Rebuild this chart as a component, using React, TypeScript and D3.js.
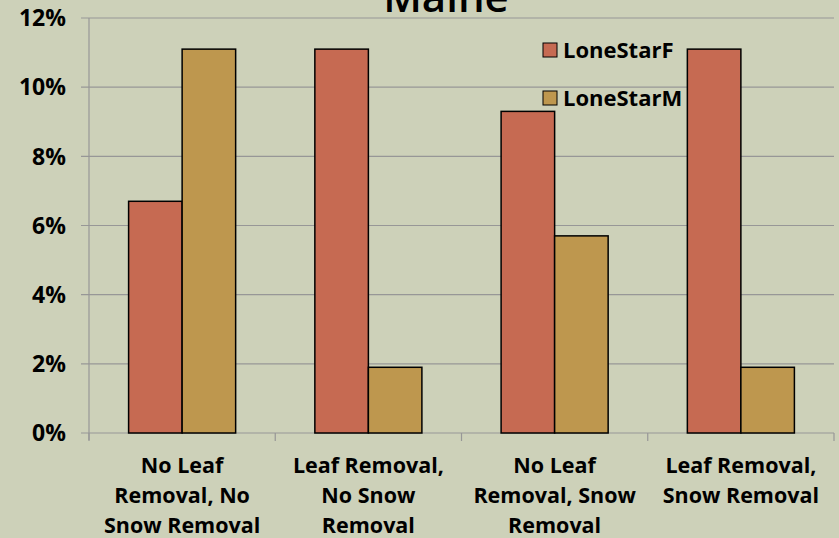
import React from "react";
import * as d3 from "d3";

const categories = [
  ["No Leaf", "Removal, No", "Snow Removal"],
  ["Leaf Removal,", "No Snow", "Removal"],
  ["No Leaf", "Removal, Snow", "Removal"],
  ["Leaf Removal,", "Snow Removal"],
];
const seriesNames = ["LoneStarF", "LoneStarM"];
const loneStarF = [6.7, 11.1, 9.3, 11.1];
const loneStarM = [11.1, 1.9, 5.7, 1.9];
const yTicks = [0, 2, 4, 6, 8, 10, 12];
const colors = ["#c66a52", "#be974e"];

const W = 839, H = 538;
const left = 89, right = 834, top = 18, bottom = 433;
const font = "'Open Sans', sans-serif";

export default function App() {
  const x = d3.scaleBand<number>().domain(d3.range(categories.length)).range([left, right]).paddingInner(0).paddingOuter(0);
  const y = d3.scaleLinear().domain([0, 12]).range([bottom, top]);
  const bw = x.bandwidth();
  const barW = bw / 3.48;
  const series = [loneStarF, loneStarM];
  return (
    <svg width={W} height={H} style={{ position: "absolute", left: 0, top: 0, display: "block" }}>
      <rect x={0} y={0} width={W} height={H} fill="#cdd1b9" />
      {yTicks.map((t) => (
        <g key={t}>
          <line x1={left - 8} x2={right} y1={y(t)} y2={y(t)} stroke="#979797" strokeWidth={1.2} />
          <text x={66} y={y(t)} dy="0.36em" textAnchor="end" fontFamily={font} fontWeight={700} fontSize={23} fill="#000">
            {t}%
          </text>
        </g>
      ))}
      <line x1={left} x2={left} y1={top} y2={bottom + 7} stroke="#979797" strokeWidth={1.2} />
      {d3.range(categories.length + 1).map((i) => {
        const xx = i < categories.length ? x(i)! : right;
        return <line key={i} x1={xx} x2={xx} y1={bottom} y2={bottom + 8} stroke="#979797" strokeWidth={1.2} />;
      })}
      {series.map((vals, si) =>
        vals.map((v, i) => {
          const x0 = x(i)! + (bw - 2 * barW) / 2 + si * barW;
          return (
            <rect key={`${si}-${i}`} x={x0} y={y(v)} width={barW} height={bottom - y(v)} fill={colors[si]} stroke="#000" strokeWidth={1.5} />
          );
        })
      )}
      {categories.map((lines, i) => (
        <text key={i} textAnchor="middle" fontFamily={font} fontWeight={700} fontSize={21.5} fill="#000">
          {lines.map((l, j) => (
            <tspan key={j} x={x(i)! + bw / 2} y={473 + j * 30}>
              {l}
            </tspan>
          ))}
        </text>
      ))}
      {seriesNames.map((n, si) => (
        <g key={n}>
          <rect x={543} y={43 + si * 48} width={14} height={14} fill={colors[si]} stroke="#000" strokeWidth={1} />
          <text x={563} y={58 + si * 48} fontFamily={font} fontWeight={700} fontSize={22} fill="#000">
            {n}
          </text>
        </g>
      ))}
      <text x={446} y={12} textAnchor="middle" fontFamily={font} fontWeight={600} fontSize={42} fill="#000">
        Maine
      </text>
    </svg>
  );
}
